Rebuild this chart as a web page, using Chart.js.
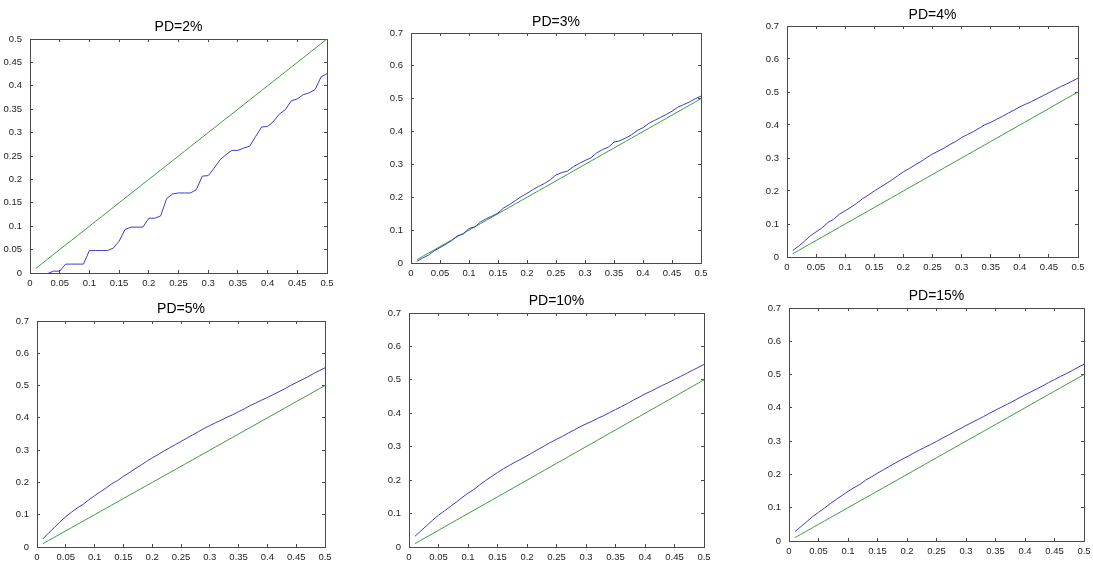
<!DOCTYPE html>
<html>
<head>
<meta charset="utf-8">
<script src="https://cdn.jsdelivr.net/npm/chart.js@4/dist/chart.umd.min.js"></script>
<style>
  html, body { margin: 0; padding: 0; background: #fff; overflow: hidden; }
  #figure { position: relative; width: 1093px; height: 561px; }
  .panel { position: absolute; }
</style>
</head>
<body>
<div id="figure"></div>
<script>
// x grid shared by every panel
const xValues = [0.01, 0.02, 0.03, 0.04, 0.05, 0.06, 0.07, 0.08, 0.09, 0.10,
  0.11, 0.12, 0.13, 0.14, 0.15, 0.16, 0.17, 0.18, 0.19, 0.20,
  0.21, 0.22, 0.23, 0.24, 0.25, 0.26, 0.27, 0.28, 0.29, 0.30,
  0.31, 0.32, 0.33, 0.34, 0.35, 0.36, 0.37, 0.38, 0.39, 0.40,
  0.41, 0.42, 0.43, 0.44, 0.45, 0.46, 0.47, 0.48, 0.49, 0.50];

// green reference line
const diagonal = [0.01, 0.02, 0.03, 0.04, 0.05, 0.06, 0.07, 0.08, 0.09, 0.10,
  0.11, 0.12, 0.13, 0.14, 0.15, 0.16, 0.17, 0.18, 0.19, 0.20,
  0.21, 0.22, 0.23, 0.24, 0.25, 0.26, 0.27, 0.28, 0.29, 0.30,
  0.31, 0.32, 0.33, 0.34, 0.35, 0.36, 0.37, 0.38, 0.39, 0.40,
  0.41, 0.42, 0.43, 0.44, 0.45, 0.46, 0.47, 0.48, 0.49, 0.50];

// blue curves, one per PD
const bluePD2 = [null, null, -0.001, 0.004, 0.004, 0.019, 0.019, 0.019, 0.019, 0.048,
  0.048, 0.048, 0.048, 0.053, 0.068, 0.093, 0.098, 0.098, 0.098, 0.117,
  0.117, 0.122, 0.159, 0.169, 0.171, 0.171, 0.171, 0.178, 0.207, 0.208,
  0.224, 0.242, 0.253, 0.262, 0.262, 0.267, 0.271, 0.292, 0.312, 0.313,
  0.324, 0.340, 0.349, 0.368, 0.372, 0.381, 0.385, 0.392, 0.419, 0.426];
const bluePD3 = [0.005, 0.015, 0.024, 0.037, 0.047, 0.057, 0.068, 0.083, 0.088, 0.105,
  0.110, 0.125, 0.135, 0.143, 0.152, 0.168, 0.178, 0.190, 0.202, 0.212,
  0.223, 0.233, 0.242, 0.253, 0.268, 0.275, 0.280, 0.293, 0.303, 0.312,
  0.320, 0.335, 0.345, 0.352, 0.368, 0.372, 0.380, 0.390, 0.403, 0.412,
  0.425, 0.434, 0.443, 0.452, 0.462, 0.474, 0.482, 0.490, 0.500, 0.508];
const bluePD4 = [0.020, 0.033, 0.048, 0.064, 0.076, 0.088, 0.104, 0.114, 0.130, 0.140,
  0.151, 0.163, 0.177, 0.188, 0.200, 0.211, 0.222, 0.233, 0.246, 0.258,
  0.268, 0.279, 0.289, 0.301, 0.312, 0.321, 0.330, 0.341, 0.350, 0.362,
  0.371, 0.380, 0.390, 0.401, 0.408, 0.417, 0.426, 0.436, 0.445, 0.455,
  0.463, 0.471, 0.480, 0.489, 0.498, 0.507, 0.516, 0.524, 0.533, 0.542];
const bluePD5 = [0.025, 0.043, 0.060, 0.078, 0.094, 0.108, 0.121, 0.132, 0.146, 0.159,
  0.171, 0.183, 0.196, 0.206, 0.219, 0.230, 0.242, 0.253, 0.265, 0.276,
  0.286, 0.297, 0.307, 0.317, 0.327, 0.337, 0.347, 0.357, 0.367, 0.376,
  0.385, 0.393, 0.402, 0.410, 0.419, 0.428, 0.438, 0.446, 0.455, 0.463,
  0.472, 0.481, 0.490, 0.500, 0.509, 0.518, 0.527, 0.537, 0.546, 0.555];
const bluePD10 = [0.032, 0.048, 0.064, 0.080, 0.095, 0.108, 0.121, 0.134, 0.148, 0.161,
  0.172, 0.186, 0.199, 0.211, 0.223, 0.234, 0.244, 0.254, 0.263, 0.273,
  0.283, 0.293, 0.303, 0.313, 0.322, 0.331, 0.341, 0.350, 0.360, 0.368,
  0.376, 0.385, 0.393, 0.402, 0.411, 0.420, 0.429, 0.439, 0.448, 0.458,
  0.466, 0.475, 0.484, 0.492, 0.501, 0.510, 0.519, 0.528, 0.537, 0.546];
const bluePD15 = [0.028, 0.043, 0.058, 0.073, 0.086, 0.099, 0.112, 0.125, 0.137, 0.149,
  0.160, 0.170, 0.183, 0.193, 0.204, 0.214, 0.224, 0.234, 0.244, 0.253,
  0.263, 0.272, 0.281, 0.290, 0.299, 0.309, 0.318, 0.328, 0.337, 0.347,
  0.356, 0.365, 0.374, 0.384, 0.393, 0.402, 0.411, 0.420, 0.430, 0.439,
  0.448, 0.457, 0.466, 0.476, 0.485, 0.494, 0.503, 0.512, 0.522, 0.531];

const titles = ['PD=2%', 'PD=3%', 'PD=4%', 'PD=5%', 'PD=10%', 'PD=15%'];

const xTicks = [0, 0.05, 0.1, 0.15, 0.2, 0.25, 0.3, 0.35, 0.4, 0.45, 0.5];
const xTickLabels = ['0', '0.05', '0.1', '0.15', '0.2', '0.25', '0.3', '0.35', '0.4', '0.45', '0.5'];
const yTicksFine = [0, 0.05, 0.1, 0.15, 0.2, 0.25, 0.3, 0.35, 0.4, 0.45, 0.5];
const yTickLabelsFine = ['0', '0.05', '0.1', '0.15', '0.2', '0.25', '0.3', '0.35', '0.4', '0.45', '0.5'];
const yTicks = [0, 0.1, 0.2, 0.3, 0.4, 0.5, 0.6, 0.7];
const yTickLabels = ['0', '0.1', '0.2', '0.3', '0.4', '0.5', '0.6', '0.7'];

// axes boxes in the figure: left, top, right, bottom, title centre y
const boxes = [
  [30, 39, 327, 273, 27],
  [411, 33, 701, 263, 22],
  [787, 26, 1078, 257, 15],
  [37, 321, 325, 547, 309],
  [409, 313, 704, 547, 301],
  [789, 308, 1084, 541, 296]
];

const AXIS = '#4a4a4a';
const TICK_FONT = { family: "'Liberation Sans', Arial, sans-serif", size: 9.5 };
const TITLE_FONT = { family: "'Liberation Sans', Arial, sans-serif", size: 14, weight: 'normal', lineHeight: '16px' };
const TICK_LEN = 3;
const SIDE = 34;    // room left and right of each axes box
const BELOW = 20;   // room under the x axis for labels

function points(ys) {
  return xValues.map((x, i) => ({ x: x, y: ys[i] }));
}

function axis(position, min, max, tickVals, tickText, showLabels) {
  const horizontal = position === 'top' || position === 'bottom';
  return {
    type: 'linear',
    position: position,
    min: min,
    max: max,
    afterBuildTicks: s => { s.ticks = tickVals.map(v => ({ value: v })); },
    afterFit: s => {
      // right axis keeps the same room as the left one, so the title sits over the box
      if (horizontal) s.height = showLabels ? BELOW : 0;
      else s.width = SIDE;
    },
    border: { display: true, color: AXIS, width: 1 },
    grid: { drawOnChartArea: false, drawTicks: true, tickLength: -TICK_LEN, color: AXIS, lineWidth: 1 },
    ticks: {
      display: showLabels,
      autoSkip: false,
      maxRotation: 0,
      padding: horizontal ? TICK_LEN + 5 : TICK_LEN + 8,
      color: '#222',
      font: TICK_FONT,
      callback: (v, i) => tickText[i]
    }
  };
}

function makePanel(idx, blue, yMax, yTickVals, yTickText) {
  const [left, top, right, bottom, titleY] = boxes[idx];
  const titleLine = 16;
  const canvasTop = titleY - titleLine / 2;

  const wrap = document.createElement('div');
  wrap.className = 'panel';
  wrap.style.left = (left - SIDE) + 'px';
  wrap.style.top = canvasTop + 'px';
  const canvas = document.createElement('canvas');
  canvas.width = right - left + 2 * SIDE;
  canvas.height = bottom - canvasTop + BELOW;
  wrap.appendChild(canvas);
  document.getElementById('figure').appendChild(wrap);

  new Chart(canvas, {
    type: 'line',
    data: {
      datasets: [
        { data: points(blue), borderColor: '#3c3cc8', borderWidth: 1, pointRadius: 0, tension: 0 },
        { data: points(diagonal), borderColor: '#3f9a3f', borderWidth: 1, pointRadius: 0, tension: 0 }
      ]
    },
    options: {
      responsive: false,
      animation: false,
      layout: { padding: 0 },
      plugins: {
        legend: { display: false },
        tooltip: { enabled: false },
        title: {
          display: true,
          text: titles[idx],
          color: '#000',
          font: TITLE_FONT,
          padding: { top: 0, bottom: top - titleY - titleLine / 2 }
        }
      },
      scales: {
        x: axis('bottom', 0, 0.5, xTicks, xTickLabels, true),
        x2: axis('top', 0, 0.5, xTicks, xTickLabels, false),
        y: axis('left', 0, yMax, yTickVals, yTickText, true),
        y2: axis('right', 0, yMax, yTickVals, yTickText, false)
      }
    }
  });
}

makePanel(0, bluePD2, 0.5, yTicksFine, yTickLabelsFine);
makePanel(1, bluePD3, 0.7, yTicks, yTickLabels);
makePanel(2, bluePD4, 0.7, yTicks, yTickLabels);
makePanel(3, bluePD5, 0.7, yTicks, yTickLabels);
makePanel(4, bluePD10, 0.7, yTicks, yTickLabels);
makePanel(5, bluePD15, 0.7, yTicks, yTickLabels);
</script>
</body>
</html>
